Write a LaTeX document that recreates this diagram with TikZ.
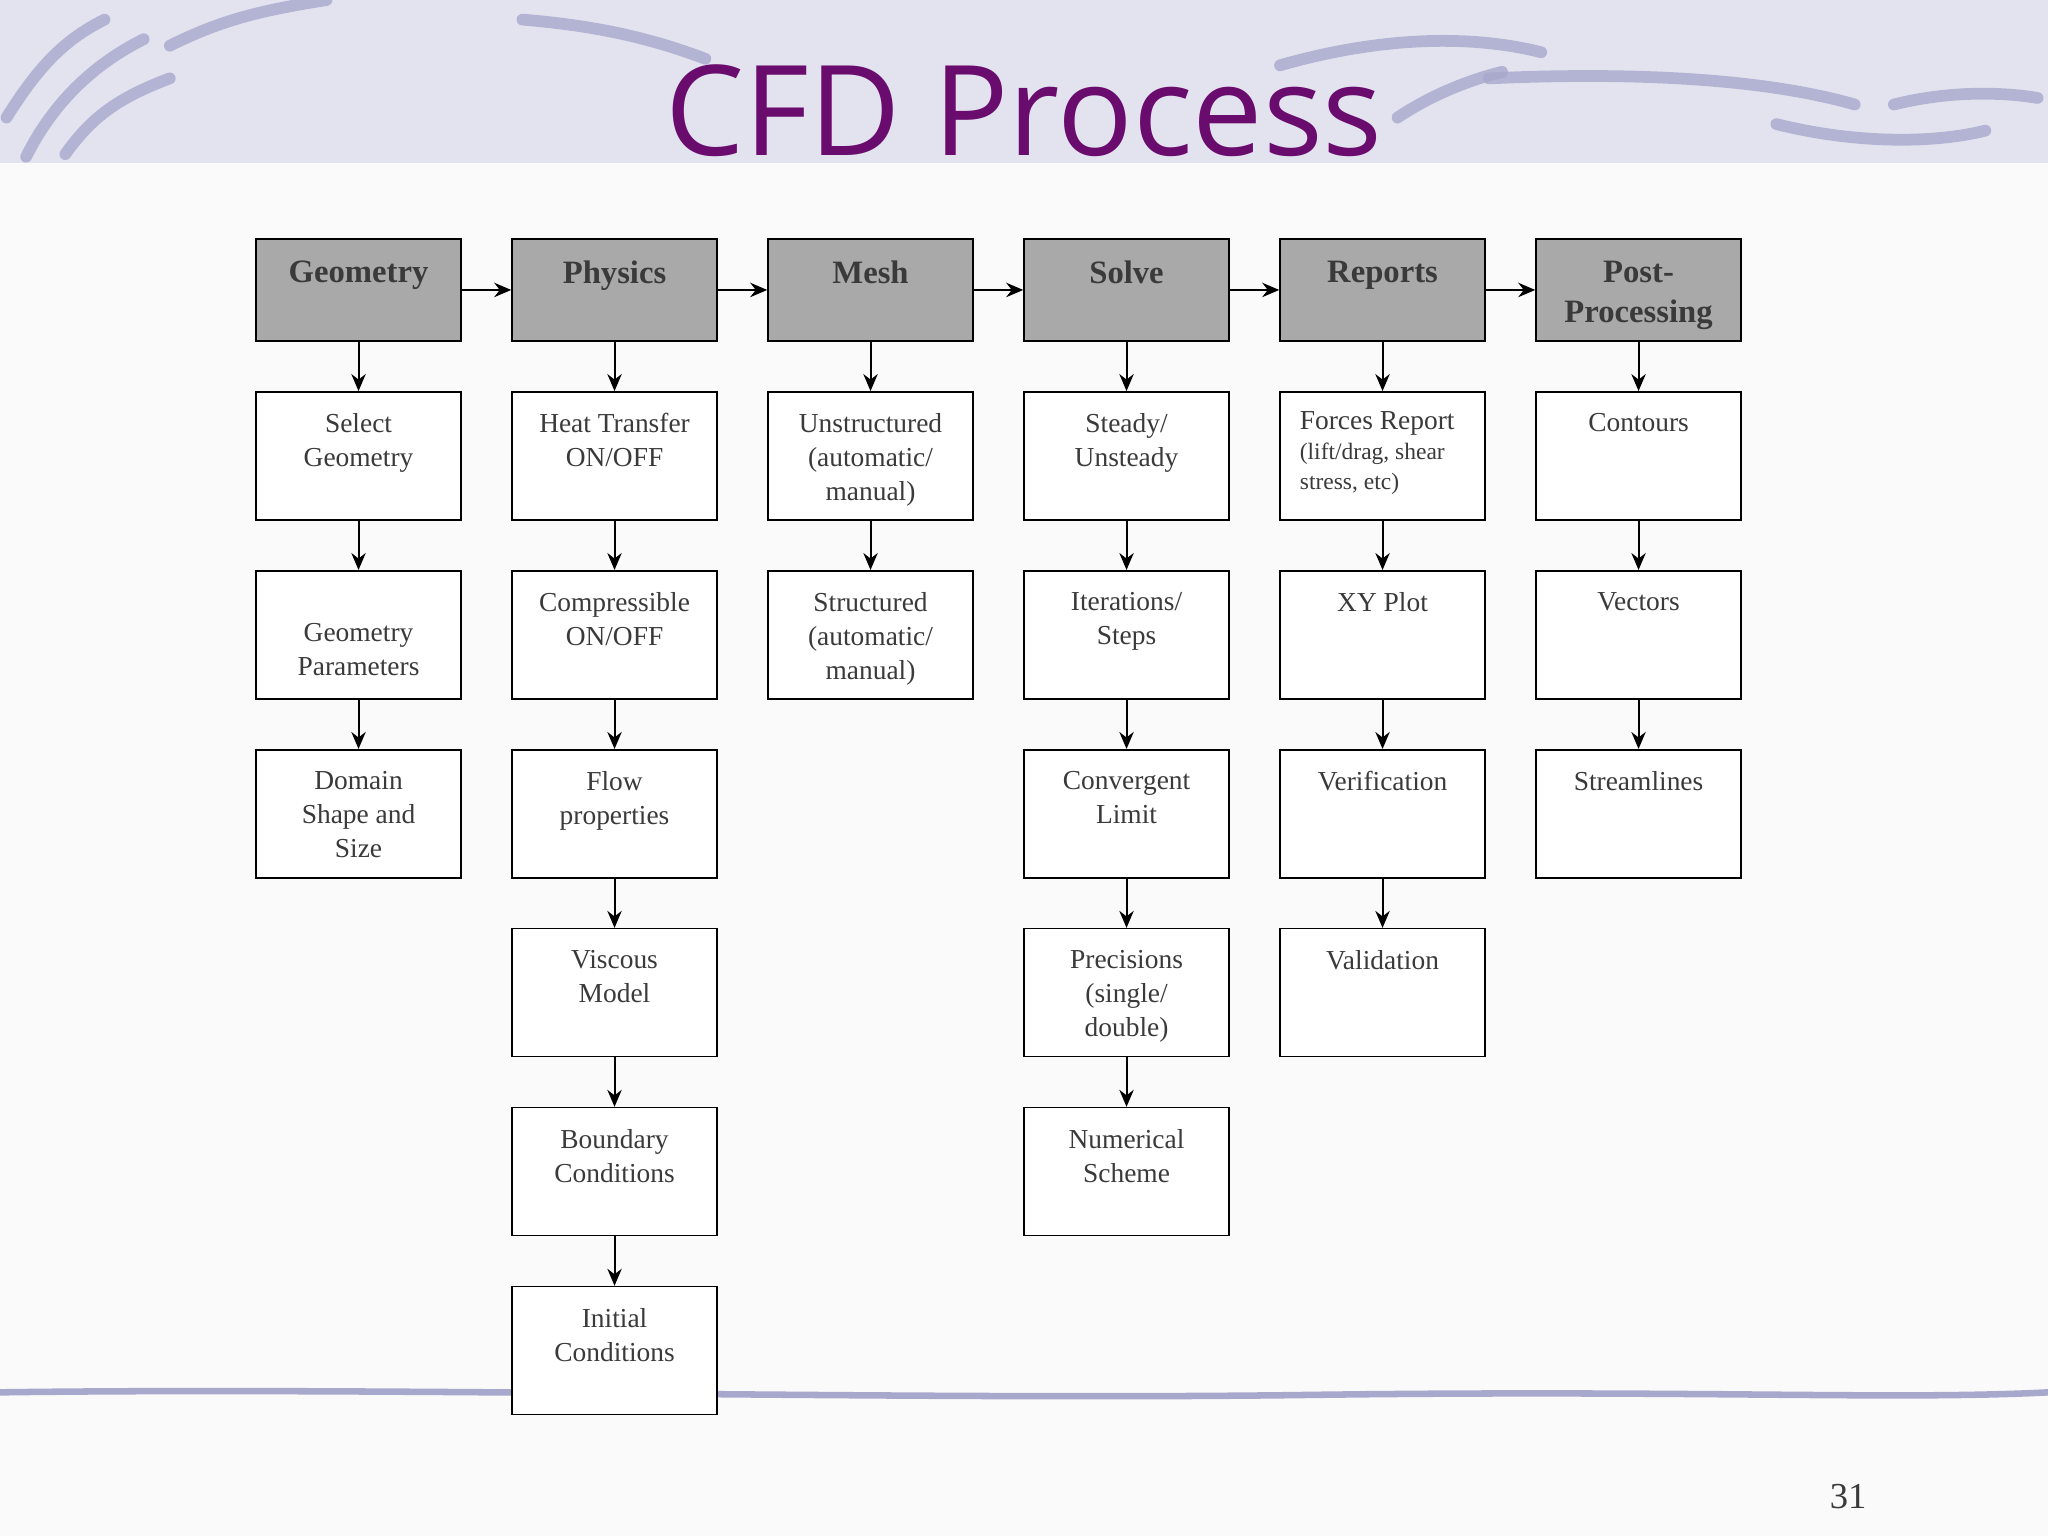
\documentclass[tikz,border=0pt]{standalone}
\usepackage{fontspec}
\setmainfont{Liberation Serif}
\newfontfamily\ttl{Open Sans}
\usetikzlibrary{arrows.meta}
\definecolor{lav}{HTML}{E3E3EF}
\definecolor{sw}{HTML}{A8A8CC}
\definecolor{ttlc}{HTML}{6A0B6E}
\definecolor{hdr}{HTML}{A9A9A9}
\definecolor{txt}{HTML}{3A3A3A}
\tikzset{
 bx/.style={draw=black,line width=1.2pt,fill=white,minimum width=157pt,minimum height=98pt,inner sep=0pt},
 hd/.style={bx,fill=hdr,minimum height=78pt},
 lbl/.style={text=txt,font=\fontsize{21}{26}\selectfont,align=center,inner sep=0pt},
 hlbl/.style={text=txt,font=\bfseries\fontsize{25}{31}\selectfont,align=center,inner sep=0pt},
 ar/.style={-{Stealth[length=13pt,width=11pt]},line width=1.5pt},
 swoosh/.style={sw,line cap=round,line width=9pt,opacity=0.8}
}
\newcommand{\Bx}[4]{\node[bx,label={[lbl,anchor=north,yshift=-17pt]north:{#4}}] (#1) at (#2,#3) {};}
\newcommand{\Hd}[4]{\node[hd,label={[hlbl,anchor=north,yshift=-17pt]north:{#4}}] (#1) at (#2,#3) {};}
\begin{document}
\begin{tikzpicture}[x=1pt,y=-1pt]
\useasboundingbox (0,0) rectangle (1568,1176);
\fill[white!96!gray] (0,0) rectangle (1568,1176);
\fill[lav] (0,0) rectangle (1568,125);
% swooshes
\draw[swoosh] (20,120) .. controls (40,80) and (70,50) .. (110,30);
\draw[swoosh] (50,118) .. controls (70,90) and (90,75) .. (130,60);
\draw[swoosh] (5,90) .. controls (30,50) and (50,30) .. (80,15);
\draw[swoosh] (130,35) .. controls (170,15) and (200,8) .. (250,0);
\draw[swoosh] (400,15) .. controls (460,20) and (500,30) .. (540,45);
\draw[swoosh] (980,50) .. controls (1050,30) and (1120,25) .. (1180,40);
\draw[swoosh] (1140,60) .. controls (1250,55) and (1350,60) .. (1420,80);
\draw[swoosh] (1360,95) .. controls (1420,110) and (1480,110) .. (1520,100);
\draw[swoosh] (1450,80) .. controls (1490,70) and (1530,70) .. (1560,75);
\draw[swoosh] (1070,90) .. controls (1100,70) and (1130,60) .. (1150,55);
\draw[sw,line width=5pt,line cap=round] (0,1066) .. controls (300,1062) and (700,1072) .. (1000,1068) .. controls (1300,1064) and (1450,1072) .. (1568,1066);
\node[ttlc,font=\ttl\fontsize{96}{100}\selectfont,inner sep=0pt] (title) at (784,85) {CFD Process};
\node[txt,font=\fontsize{28}{30}\selectfont,inner sep=0pt] (pg) at (1415,1146) {31};
% headers
\Hd{g}{274.5}{222}{Geometry}
\Hd{p}{470.5}{222}{Physics}
\Hd{m}{666.5}{222}{Mesh}
\Hd{s}{862.5}{222}{Solve}
\Hd{r}{1058.5}{222}{Reports}
\Hd{pp}{1254.5}{222}{Post-\\Processing}
\foreach \a/\b in {g/p,p/m,m/s,s/r,r/pp} \draw[ar] (\a.east) -- (\b.west);
% geometry
\Bx{g1}{274.5}{349}{Select\\Geometry}
\node[bx] (g2) at (274.5,486) {};
\node[lbl] (g2t) at (274.5,497) {Geometry\\Parameters};
\Bx{g3}{274.5}{623}{Domain\\Shape and\\Size}
% physics
\Bx{p1}{470.5}{349}{Heat Transfer\\ON/OFF}
\Bx{p2}{470.5}{486}{Compressible\\ON/OFF}
\Bx{p3}{470.5}{623}{Flow\\properties}
\Bx{p4}{470.5}{760}{Viscous\\Model}
\Bx{p5}{470.5}{897}{Boundary\\Conditions}
\Bx{p6}{470.5}{1034}{Initial\\Conditions}
% mesh
\Bx{m1}{666.5}{349}{Unstructured\\(automatic/\\manual)}
\Bx{m2}{666.5}{486}{Structured\\(automatic/\\manual)}
% solve
\Bx{s1}{862.5}{349}{Steady/\\Unsteady}
\Bx{s2}{862.5}{486}{Iterations/\\Steps}
\Bx{s3}{862.5}{623}{Convergent\\Limit}
\Bx{s4}{862.5}{760}{Precisions\\(single/\\double)}
\Bx{s5}{862.5}{897}{Numerical\\Scheme}
% reports
\node[bx] (r1) at (1058.5,349) {};
\node[lbl,anchor=north west,align=left] (r1t) at (995,315) {Forces Report\\[-3pt]{\fontsize{18}{24}\selectfont (lift/drag, shear}\\[-3pt]{\fontsize{18}{24}\selectfont stress, etc)}};
\Bx{r2}{1058.5}{486}{XY Plot}
\Bx{r3}{1058.5}{623}{Verification}
\Bx{r4}{1058.5}{760}{Validation}
% post
\Bx{pp1}{1254.5}{349}{Contours}
\Bx{pp2}{1254.5}{486}{Vectors}
\Bx{pp3}{1254.5}{623}{Streamlines}
\foreach \a/\b in {g/g1,g1/g2,g2/g3,p/p1,p1/p2,p2/p3,p3/p4,p4/p5,p5/p6,m/m1,m1/m2,s/s1,s1/s2,s2/s3,s3/s4,s4/s5,r/r1,r1/r2,r2/r3,r3/r4,pp/pp1,pp1/pp2,pp2/pp3}
  \draw[ar] (\a.south) -- (\b.north);
\end{tikzpicture}
\end{document}
